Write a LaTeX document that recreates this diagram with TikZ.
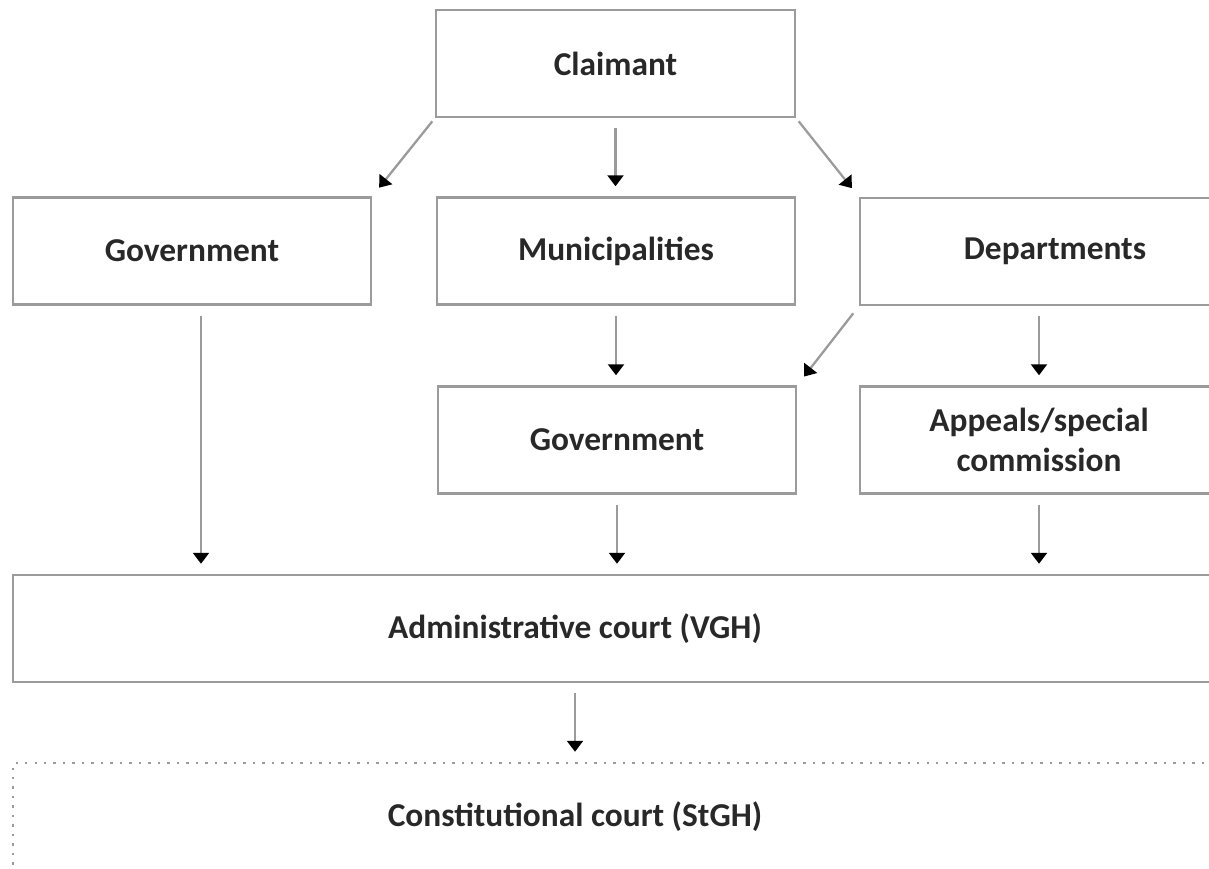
\documentclass[tikz,border=0pt]{standalone}
\usepackage{fontspec}
\setmainfont{Carlito}
\usepackage{xcolor}
\usepackage{tikz}
\usetikzlibrary{arrows.meta, positioning, calc}

\definecolor{linegray}{RGB}{155,155,155}
\definecolor{txtgray}{RGB}{40,40,40}

\begin{document}
\begin{tikzpicture}[
  every node/.style={font=\fontsize{9.5}{11.5}\selectfont\bfseries, text=txtgray},
  box/.style={draw=linegray, line width=0.7pt, minimum height=1.07cm, align=center, inner sep=0pt},
  flow/.style={draw=linegray, line width=0.65pt,
    -{Triangle[width=0.16cm, length=0.11cm, color=black]},
    shorten <=0.1cm, shorten >=0.1cm},
  slant/.style={flow, shorten <=0.04cm, shorten >=0.11cm}
]
\useasboundingbox (0,0) rectangle (12.09,8.68);
\clip (0,0) rectangle (12.09,8.68);

% Top row
\node[box, minimum width=3.59cm] (claim) at (6.155,8.045) {Claimant};

% Second row
\node[box, minimum width=3.58cm] (gov1) at (1.92,6.17) {Government};
\node[box, minimum width=3.58cm] (muni) at (6.16,6.17) {Municipalities};
\node[box, minimum width=3.90cm] (dept) at (10.55,6.165) {Departments};

% Third row
\node[box, minimum width=3.58cm] (gov2) at (6.17,4.28) {Government};
\node[box, minimum width=3.58cm] (app) at (10.39,4.28) {Appeals/special\\commission};

% Courts (cut off at the right edge)
\node[box, minimum width=12.87cm,
  label={[name=admtxt, xshift=-0.815cm]center:Administrative court (VGH)}]
  (admin) at (6.565,2.395) {};
\node[box, dotted, minimum width=12.87cm,
  label={[name=consttxt, xshift=-0.815cm]center:Constitutional court (StGH)}]
  (const) at (6.565,0.515) {};

% Arrows
\draw[slant] (claim.south west) -- (gov1.north east);
\draw[flow] (claim.south) -- (claim.south |- muni.north);
\draw[slant] (claim.south east) -- (dept.north west);

\draw[flow] ([xshift=0.09cm]gov1.south) -- ([xshift=0.09cm]gov1.south |- admin.north);
\draw[flow] (muni.south) -- (muni.south |- gov2.north);
\draw[slant, shorten <=0.09cm] (dept.south west) -- (gov2.north east);
\draw[flow] (dept.south -| app.north) -- (app.north);

\draw[flow] (gov2.south) -- (gov2.south |- admin.north);
\draw[flow] (app.south) -- (app.south |- admin.north);
\draw[flow] (admtxt.south |- admin.south) -- (admtxt.south |- const.north);

\end{tikzpicture}
\end{document}
